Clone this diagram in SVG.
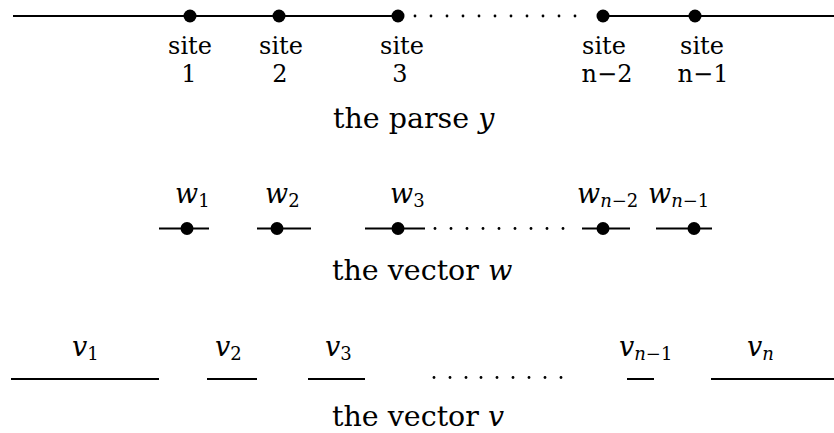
<svg xmlns="http://www.w3.org/2000/svg" width="834" height="433" viewBox="0 0 834 433">
<style>
.ln{stroke:#000;stroke-width:2;fill:none}
.dot{fill:#000}
.sd{fill:#000}
.lbl{font-family:"DejaVu Serif","Liberation Serif",serif;font-size:24px;fill:#000;text-anchor:middle}
.cap{font-family:"DejaVu Serif","Liberation Serif",serif;font-size:28.5px;fill:#000}
.mi{font-family:"DejaVu Serif","Liberation Serif",serif;font-style:italic;font-size:27px;fill:#000}
.sub{font-size:18px;font-style:italic}
.subr{font-size:18px;font-style:normal}
</style>
<defs>
<circle id="bd" r="6.5" class="dot"/>
<circle id="sm" r="1.4" class="sd"/>
</defs>
<rect width="834" height="433" fill="#fff"/>

<g id="connectors">
  <line class="ln" x1="13" y1="16" x2="398" y2="16"/>
  <line class="ln" x1="603" y1="16" x2="834" y2="16"/>
  <g id="top-dots">
    <use href="#sm" x="415" y="16"/><use href="#sm" x="431" y="16"/><use href="#sm" x="447" y="16"/>
    <use href="#sm" x="463" y="16"/><use href="#sm" x="479" y="16"/><use href="#sm" x="495" y="16"/>
    <use href="#sm" x="511" y="16"/><use href="#sm" x="527" y="16"/><use href="#sm" x="543" y="16"/>
    <use href="#sm" x="559" y="16"/><use href="#sm" x="575" y="16"/>
  </g>
  <line class="ln" x1="159" y1="228.5" x2="209" y2="228.5"/>
  <line class="ln" x1="257" y1="228.5" x2="311" y2="228.5"/>
  <line class="ln" x1="365" y1="228.5" x2="425" y2="228.5"/>
  <line class="ln" x1="582" y1="228.5" x2="630" y2="228.5"/>
  <line class="ln" x1="656" y1="228.5" x2="712" y2="228.5"/>
  <g id="w-dots">
    <use href="#sm" x="435" y="228.5"/><use href="#sm" x="451" y="228.5"/><use href="#sm" x="467" y="228.5"/>
    <use href="#sm" x="483" y="228.5"/><use href="#sm" x="499" y="228.5"/><use href="#sm" x="515" y="228.5"/>
    <use href="#sm" x="531" y="228.5"/><use href="#sm" x="547" y="228.5"/><use href="#sm" x="563" y="228.5"/>
  </g>
  <line class="ln" x1="11" y1="379" x2="159" y2="379"/>
  <line class="ln" x1="207" y1="379" x2="257" y2="379"/>
  <line class="ln" x1="308" y1="379" x2="365" y2="379"/>
  <line class="ln" x1="627" y1="379" x2="654" y2="379"/>
  <line class="ln" x1="711" y1="379" x2="834" y2="379"/>
  <g id="v-dots">
    <use href="#sm" x="434" y="377.5"/><use href="#sm" x="450" y="377.5"/><use href="#sm" x="466" y="377.5"/>
    <use href="#sm" x="481" y="377.5"/><use href="#sm" x="497" y="377.5"/><use href="#sm" x="513" y="377.5"/>
    <use href="#sm" x="529" y="377.5"/><use href="#sm" x="545" y="377.5"/><use href="#sm" x="561" y="377.5"/>
  </g>
</g>

<g id="site1"><use href="#bd" x="190" y="16"/><text class="lbl" x="190" y="54">site</text><text class="lbl" x="189" y="82">1</text></g>
<g id="site2"><use href="#bd" x="279" y="16"/><text class="lbl" x="281" y="54">site</text><text class="lbl" x="280" y="82">2</text></g>
<g id="site3"><use href="#bd" x="398" y="16"/><text class="lbl" x="402" y="54">site</text><text class="lbl" x="400" y="82">3</text></g>
<g id="site-n-2"><use href="#bd" x="603" y="16"/><text class="lbl" x="604" y="54">site</text><text class="lbl" x="607" y="82">n−2</text></g>
<g id="site-n-1"><use href="#bd" x="695" y="16"/><text class="lbl" x="702" y="54">site</text><text class="lbl" x="703" y="82">n−1</text></g>
<g id="caption-y"><text class="cap" x="333" y="128">the parse <tspan font-style="italic">y</tspan></text></g>

<g id="w1"><use href="#bd" x="187" y="228.5"/><text class="mi" x="175" y="203">w<tspan class="subr" dy="3.5">1</tspan></text></g>
<g id="w2"><use href="#bd" x="277" y="228.5"/><text class="mi" x="265" y="203">w<tspan class="subr" dy="3.5">2</tspan></text></g>
<g id="w3"><use href="#bd" x="398" y="228.5"/><text class="mi" x="390" y="203">w<tspan class="subr" dy="3.5">3</tspan></text></g>
<g id="w-n-2"><use href="#bd" x="603" y="228.5"/><text class="mi" x="577" y="203">w<tspan class="sub" dy="3.5">n</tspan><tspan class="subr">−2</tspan></text></g>
<g id="w-n-1"><use href="#bd" x="694" y="228.5"/><text class="mi" x="648" y="203">w<tspan class="sub" dy="3.5">n</tspan><tspan class="subr">−1</tspan></text></g>
<g id="caption-w"><text class="cap" x="332" y="280">the vector <tspan font-style="italic">w</tspan></text></g>

<g id="v1"><text class="mi" x="72" y="356">v<tspan class="subr" dy="3.5">1</tspan></text></g>
<g id="v2"><text class="mi" x="215" y="356">v<tspan class="subr" dy="3.5">2</tspan></text></g>
<g id="v3"><text class="mi" x="325" y="356">v<tspan class="subr" dy="3.5">3</tspan></text></g>
<g id="v-n-1"><text class="mi" x="619" y="356">v<tspan class="sub" dy="3.5">n</tspan><tspan class="subr">−1</tspan></text></g>
<g id="v-n"><text class="mi" x="747" y="356">v<tspan class="sub" dy="3.5">n</tspan></text></g>
<g id="caption-v"><text class="cap" x="332" y="426">the vector <tspan font-style="italic">v</tspan></text></g>
</svg>
